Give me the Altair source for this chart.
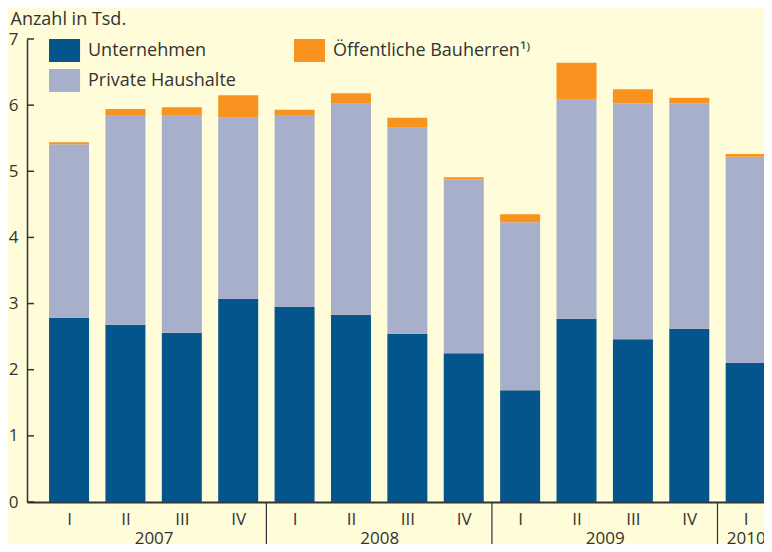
import altair as alt
import pandas as pd

# ---- data ----
quarters = ["I", "II", "III", "IV", "I", "II", "III", "IV", "I", "II", "III", "IV", "I"]
years = ["2007", "2008", "2009", "2010"]
year_pos = [1.5, 5.5, 9.5, 12]
separators = [3.5, 7.5, 11.5]
unternehmen = [2.78, 2.68, 2.56, 3.07, 2.95, 2.83, 2.54, 2.25, 1.69, 2.77, 2.46, 2.62, 2.10]
private = [2.63, 3.17, 3.28, 2.74, 2.90, 3.19, 3.12, 2.63, 2.54, 3.31, 3.57, 3.41, 3.12]
oeffentlich = [0.03, 0.09, 0.13, 0.34, 0.08, 0.16, 0.15, 0.03, 0.12, 0.56, 0.21, 0.08, 0.04]
y_ticks = [0, 1, 2, 3, 4, 5, 6, 7]

cat_names = ["Unternehmen", "Private Haushalte", "Öffentliche Bauherren¹⁾"]
cat_colors = ["#04558b", "#a8afcb", "#f7931e"]
series = [("Unternehmen", unternehmen, 1), ("Private Haushalte", private, 2),
          ("Öffentliche Bauherren¹⁾", oeffentlich, 3)]

rows = []
for name, vals, order in series:
    for i, v in enumerate(vals):
        rows.append({"pos": i, "cat": name, "value": v, "order": order})
df = pd.DataFrame(rows)

sdf = pd.DataFrame({"pos": separators})
tdf = pd.DataFrame({"v": y_ticks})

# x-axis labels: quarter on the first line, year (between its quarters) on the second
label_map = {}
for i, q in enumerate(quarters):
    label_map[float(i)] = [q]
for p, yr in zip(year_pos, years):
    if float(p) in label_map:
        label_map[float(p)] = label_map[float(p)] + [yr]
    else:
        label_map[float(p)] = ["", yr]
x_values = sorted(label_map)


def js_list(items):
    return "[" + ",".join("'" + s + "'" for s in items) + "]"


label_expr = "".join(f"datum.value == {v} ? {js_list(label_map[v])} : " for v in x_values) + "''"

W, H = 737, 463
TXT = "#333333"
FONT = "Open Sans"

xscale = alt.Scale(domain=[-0.7456, 12.325], nice=False, zero=False, padding=0)
yscale = alt.Scale(domain=[0, 7], nice=False)

bars = alt.Chart(df).mark_bar(size=40).encode(
    x=alt.X("pos:Q", scale=xscale,
            axis=alt.Axis(values=x_values, labelExpr=label_expr, ticks=False, grid=False,
                          domain=True, domainColor=TXT, domainWidth=2, title=None,
                          labelFont=FONT, labelFontSize=17, labelColor=TXT,
                          labelBaseline="top", labelPadding=9, labelLineHeight=19,
                          labelOverlap=False, labelFlush=False, labelBound=False)),
    y=alt.Y("value:Q", stack="zero", scale=yscale,
            axis=alt.Axis(values=y_ticks, format="d", ticks=False, grid=False, domain=True,
                          domainColor=TXT, domainWidth=1.5,
                          labelFont=FONT, labelFontSize=17, labelPadding=9, labelColor=TXT,
                          title="Anzahl in Tsd.", titleAngle=0, titleX=-17, titleY=-15,
                          titleAlign="left", titleBaseline="alphabetic", titleFont=FONT,
                          titleFontSize=18, titleFontWeight="normal", titleColor=TXT)),
    color=alt.Color("cat:N", scale=alt.Scale(domain=cat_names, range=cat_colors),
                    legend=alt.Legend(orient="none", legendX=22, legendY=0, columns=2,
                                      title=None, symbolType="M-1,-1H1.7V1H-1Z",
                                      symbolSize=529, symbolStrokeWidth=0, symbolOpacity=1,
                                      labelFont=FONT, labelFontSize=18, labelOffset=16,
                                      labelColor=TXT, labelLimit=400, columnPadding=58,
                                      rowPadding=7, padding=0)),
    order=alt.Order("order:Q"),
)

ticks = alt.Chart(tdf).mark_rule(color=TXT, strokeWidth=1.5).encode(
    y=alt.Y("v:Q", scale=yscale), x=alt.value(0), x2=alt.value(7))

seps = alt.Chart(sdf).mark_rule(color=TXT, strokeWidth=1.2).encode(
    x=alt.X("pos:Q", scale=xscale), y=alt.value(H), y2=alt.value(H + 42))

chart = alt.layer(bars, ticks, seps).properties(
    width=W, height=H,
    autosize=alt.AutoSizeParams(type="none"),
    padding={"left": 19, "top": 31, "right": 0, "bottom": 42},
    background="#fffcda",
).configure(font=FONT).configure_view(stroke=None)

chart.save("out.html", embed_options={"renderer": "svg", "actions": False})
